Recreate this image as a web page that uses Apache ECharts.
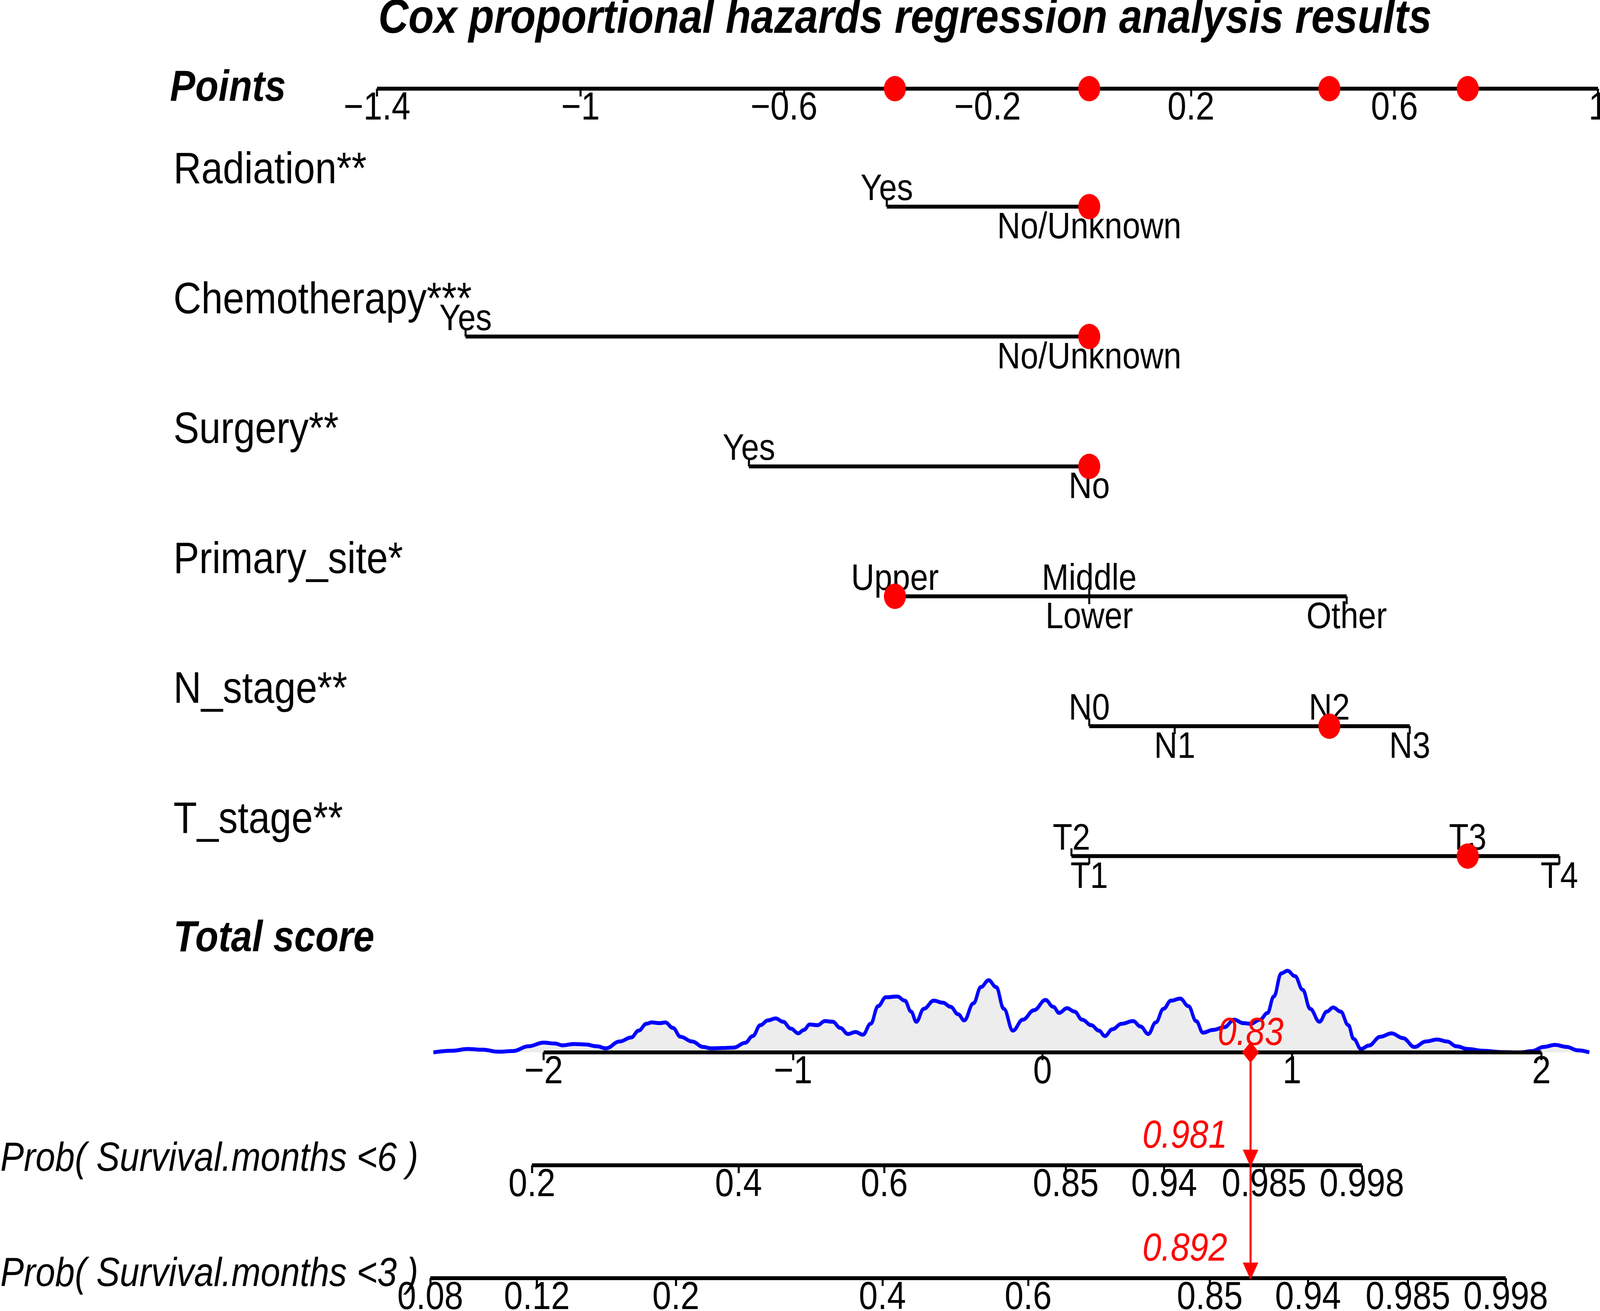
<!DOCTYPE html>
<html><head><meta charset="utf-8">
<script src="https://cdn.jsdelivr.net/npm/echarts@6/dist/echarts.min.js"></script>
<style>html,body{margin:0;padding:0;background:#fff;overflow:hidden}
#wrap{position:absolute;left:0;top:0;width:4724px;height:3356px;transform-origin:0 0}
#c{width:4724px;height:3356px}</style>
</head><body><div id="wrap"><div id="c"></div></div>
<script>
// ---------------- DATA ----------------
const titleText = 'Cox proportional hazards regression analysis results';
const variableNames = ['Radiation**', 'Chemotherapy***', 'Surgery**', 'Primary_site*', 'N_stage**', 'T_stage**'];
const radiationLevels = ['No/Unknown', 'Yes'];
const radiationPoints = [0, -0.398];
const chemoLevels = ['No/Unknown', 'Yes'];
const chemoPoints = [0, -1.226];
const surgeryLevels = ['No', 'Yes'];
const surgeryPoints = [0, -0.669];
const primaryLevels = ['Lower', 'Middle', 'Other', 'Upper'];
const primaryPoints = [0, 0, 0.506, -0.382];
const nStageLevels = ['N0', 'N1', 'N2', 'N3'];
const nStagePoints = [0, 0.168, 0.472, 0.630];
const tStageLevels = ['T1', 'T2', 'T3', 'T4'];
const tStagePoints = [0, -0.035, 0.744, 0.924];
const selectedLevels = ['No/Unknown', 'No/Unknown', 'No', 'Upper', 'N2', 'T3'];

const pointsTicks = [-1.4, -1, -0.6, -0.2, 0.2, 0.6, 1];
const totalTicks = [-2, -1, 0, 1, 2];
const prob6Labels = ['0.2', '0.4', '0.6', '0.85', '0.94', '0.985', '0.998'];
const prob3Labels = ['0.08', '0.12', '0.2', '0.4', '0.6', '0.85', '0.94', '0.985', '0.998'];
const prob6Name = 'Prob( Survival.months <6 )';
const prob3Name = 'Prob( Survival.months <3 )';
// total score = log(-log(1-p)) - baseline
const prob6Baseline = 0.547;
const prob3Baseline = -0.030;
const predictedProbs = [0.981, 0.892];

const densityScore = [-2.442,-2.366,-2.305,-2.244,-2.183,-2.122,-2.061,-2.000,-1.954,-1.924,
-1.878,-1.832,-1.787,-1.750,-1.695,-1.649,-1.619,-1.588,-1.567,-1.534,
-1.512,-1.482,-1.451,-1.405,-1.360,-1.329,-1.284,-1.238,-1.192,-1.162,
-1.131,-1.101,-1.070,-1.040,-1.009,-0.979,-0.957,-0.933,-0.902,-0.872,
-0.841,-0.811,-0.780,-0.750,-0.720,-0.689,-0.659,-0.628,-0.582,-0.552,
-0.527,-0.506,-0.476,-0.436,-0.399,-0.369,-0.338,-0.314,-0.277,-0.247,
-0.216,-0.186,-0.155,-0.119,-0.079,-0.034,0.012,0.043,0.067,0.098,
0.128,0.159,0.195,0.226,0.250,0.280,0.317,0.363,0.393,0.424,
0.454,0.485,0.515,0.552,0.585,0.616,0.643,0.683,0.729,0.768,
0.805,0.835,0.872,0.902,0.927,0.957,0.982,1.012,1.043,1.073,
1.110,1.140,1.165,1.195,1.226,1.247,1.277,1.308,1.354,1.399,
1.445,1.491,1.537,1.582,1.622,1.659,1.704,1.765,1.841,1.918,
1.963,2.009,2.055,2.101,2.146,2.192];
const densityHeight = [0.0,0.12,0.25,0.2,0.05,0.1,0.45,0.72,0.65,0.52,
0.62,0.58,0.45,0.3,0.8,1.1,1.6,2.1,2.2,2.15,
2.2,1.8,1.15,0.8,0.4,0.3,0.32,0.35,0.7,1.2,
2.0,2.35,2.5,2.25,1.75,1.4,1.65,2.05,2.0,2.3,
2.25,1.8,1.35,1.5,1.3,2.1,3.4,4.05,4.1,3.8,
3.0,2.25,3.2,3.8,3.65,3.35,2.8,2.35,3.6,4.8,
5.3,4.8,3.2,1.6,2.4,3.1,3.85,3.35,2.9,3.25,
3.0,2.4,2.0,1.6,1.2,1.7,2.1,2.3,1.9,1.35,
2.2,3.2,3.8,3.95,3.4,2.3,1.45,1.65,1.85,2.4,
2.15,2.1,2.4,2.9,4.1,5.8,6.0,5.6,4.6,3.2,
2.25,3.0,3.3,3.0,2.0,1.0,0.25,0.5,1.15,1.4,
1.05,0.4,0.8,0.95,0.8,0.45,0.25,0.12,0.02,0.0,
0.1,0.4,0.55,0.4,0.15,0.0];

// ---------------- LAYOUT ----------------
const W = 4724, H = 3356;
(function fit() {
  const vw = document.documentElement.clientWidth || window.innerWidth;
  const vh = document.documentElement.clientHeight || window.innerHeight;
  const sx = Math.min(1, vw / W), sy = Math.min(1, vh / H);
  if (sx < 1 || sy < 1) document.getElementById('wrap').style.transform = 'scale(' + sx + ',' + sy + ')';
})();

const FONT = '"Liberation Sans", Arial, Helvetica, sans-serif';
const PTS_ZERO = 3216, PTS_UNIT = 1502;
const SC_ZERO = 3078, SC_UNIT = 736.5;
const POINTS_Y = 227, ROW0 = 529, ROW_STEP = 332.5;
const TOTAL_Y = 2694, PROB6_Y = 2983, PROB3_Y = 3272;
const NAME_X = 512, PROB_NAME_RIGHT = 1235;
const RED = '#ff0000';

const variables = [
  {levels: radiationLevels, points: radiationPoints},
  {levels: chemoLevels, points: chemoPoints},
  {levels: surgeryLevels, points: surgeryPoints},
  {levels: primaryLevels, points: primaryPoints},
  {levels: nStageLevels, points: nStagePoints},
  {levels: tStageLevels, points: tStagePoints}
];

const cll = p => Math.log(-Math.log(1 - p));
const prob6Pos = prob6Labels.map(l => cll(parseFloat(l)) - prob6Baseline);
const prob3Pos = prob3Labels.map(l => cll(parseFloat(l)) - prob3Baseline);

const selPoints = variables.map((v, i) => v.points[v.levels.indexOf(selectedLevels[i])]);
const totalScore = selPoints.reduce((a, b) => a + b, 0);
const uniqueSel = Array.from(new Set(selPoints));

const fmtMinus = v => (v < 0 ? '\u2212' + String(Math.round(-v * 1000) / 1000) : String(Math.round(v * 1000) / 1000));
const nearestLabel = (pos, labels) => v => {
  let best = 0, bd = Infinity;
  pos.forEach((p, k) => { const d = Math.abs(p - v); if (d < bd) { bd = d; best = k; } });
  return labels[best];
};

const ptsLeft = PTS_ZERO - 1.4 * PTS_UNIT, ptsWidth = 2.4 * PTS_UNIT;
const scLeft = SC_ZERO - 2 * SC_UNIT, scWidth = 4 * SC_UNIT;
const DENS_EXT = 2.6;
const p6min = prob6Pos[0], p6max = prob6Pos[prob6Pos.length - 1];
const p3min = prob3Pos[0], p3max = prob3Pos[prob3Pos.length - 1];
const p6Left = SC_ZERO + p6min * SC_UNIT, p6Width = (p6max - p6min) * SC_UNIT;
const p3Left = SC_ZERO + p3min * SC_UNIT, p3Width = (p3max - p3min) * SC_UNIT;

const lineAxis = {show: true, onZero: false, lineStyle: {color: '#000', width: 10, cap: 'butt'}};
const tickStyle = (vals) => ({show: true, length: 20, inside: false, customValues: vals, lineStyle: {color: '#000', width: 6}});
const labelStyle = {color: '#000', fontSize: 100, fontFamily: FONT, margin: 4, lineHeight: 94, hideOverlap: false};

function gridAt(left, width, top, height) {
  return {left: left, width: width, top: top, height: height, containLabel: false, outerBoundsMode: 'none', show: false};
}

// ---------------- SERIES ----------------
const series = [];

// red dots on Points axis
series.push({type: 'scatter', xAxisIndex: 0, yAxisIndex: 0, z: 10, symbol: 'circle', symbolSize: 65,
  itemStyle: {color: RED, opacity: 1}, data: uniqueSel.map(p => [p, 0])});

// variable rows
const above = [], below = [];
variables.forEach((v, i) => {
  const order = v.levels.map((l, k) => ({l: l, p: v.points[k]})).sort((a, b) => a.p - b.p);
  series.push({type: 'line', xAxisIndex: 1, yAxisIndex: 1, z: 2, symbol: 'none', silent: true,
    lineStyle: {color: '#000', width: 10, cap: 'butt'}, data: order.map(o => [o.p, i])});
  order.forEach((o, k) => (k % 2 === 0 ? above : below).push({name: o.l, value: [o.p, i]}));
});
series.push({type: 'scatter', xAxisIndex: 1, yAxisIndex: 1, z: 3, symbol: 'rect', symbolSize: [6, 20], symbolOffset: [0, -10],
  itemStyle: {color: '#000', opacity: 1}, data: above});
series.push({type: 'scatter', xAxisIndex: 1, yAxisIndex: 1, z: 3, symbol: 'rect', symbolSize: [6, 20], symbolOffset: [0, 10],
  itemStyle: {color: '#000', opacity: 1}, data: below});
const lvlLabel = {show: true, position: 'inside', formatter: '{b}', color: '#000', opacity: 1, textBorderWidth: 0, fontSize: 95, fontFamily: FONT};
series.push({type: 'scatter', xAxisIndex: 1, yAxisIndex: 1, z: 4, symbolSize: 1, itemStyle: {color: 'rgba(0,0,0,0)'},
  label: Object.assign({offset: [0, -43]}, lvlLabel), data: above});
series.push({type: 'scatter', xAxisIndex: 1, yAxisIndex: 1, z: 4, symbolSize: 1, itemStyle: {color: 'rgba(0,0,0,0)'},
  label: Object.assign({offset: [0, 55]}, lvlLabel), data: below});
series.push({type: 'scatter', xAxisIndex: 1, yAxisIndex: 1, z: 10, symbol: 'circle', symbolSize: 65,
  itemStyle: {color: RED, opacity: 1}, data: selPoints.map((p, i) => [p, i])});

// density of total score
series.push({type: 'line', xAxisIndex: 2, yAxisIndex: 2, z: 1, smooth: 0.4, smoothMonotone: 'x', symbol: 'none',
  lineStyle: {color: '#0000ff', width: 10}, areaStyle: {color: '#ededed', opacity: 1},
  data: densityScore.map((s, k) => [s, densityHeight[k]])});

// arrow from total score to probabilities
const TRI = 'path://M0,0L10,0L5,10Z';
const redText = {color: RED, fontSize: 100, fontStyle: 'italic', fontFamily: FONT, textBorderWidth: 0};
series.push({type: 'line', xAxisIndex: 5, yAxisIndex: 5, z: 8, clip: false, symbol: 'circle', symbolSize: 0,
  lineStyle: {color: RED, width: 6}, itemStyle: {color: RED, opacity: 1},
  data: [
    {value: [totalScore, 0], symbol: 'diamond', symbolSize: [50, 54],
      label: Object.assign({show: true, position: 'inside', offset: [0, -47], formatter: totalScore.toFixed(2)}, redText)},
    {value: [totalScore, 1], symbol: TRI, symbolSize: [46, 44], symbolOffset: [0, -18],
      label: Object.assign({show: true, position: 'inside', align: 'right', offset: [-69, -55], formatter: String(predictedProbs[0])}, redText)},
    {value: [totalScore, 2], symbol: TRI, symbolSize: [46, 44], symbolOffset: [0, -18],
      label: Object.assign({show: true, position: 'inside', align: 'right', offset: [-69, -55], formatter: String(predictedProbs[1])}, redText)}
  ]});

// ---------------- OPTION ----------------
const hiddenY = (min, max, inv) => ({type: 'value', min: min, max: max, inverse: !!inv, show: false, splitLine: {show: false}});
const option = {
  animation: false,
  backgroundColor: '#ffffff',
  textStyle: {fontFamily: FONT},
  title: [
    {text: titleText, left: 2672, top: 0, padding: 0, textAlign: 'center',
      textStyle: {fontSize: 123, fontWeight: 'bold', fontStyle: 'italic', color: '#000', fontFamily: FONT, lineHeight: 100}},
    {text: 'Total score', left: NAME_X, top: 2354, padding: 0,
      textStyle: {fontSize: 112, fontWeight: 'bold', fontStyle: 'italic', color: '#000', fontFamily: FONT, lineHeight: 100}}
  ],
  grid: [
    gridAt(ptsLeft, ptsWidth, POINTS_Y - 100, 100),
    gridAt(ptsLeft, ptsWidth, ROW0 - ROW_STEP / 2, ROW_STEP * variableNames.length),
    gridAt(SC_ZERO - DENS_EXT * SC_UNIT, 2 * DENS_EXT * SC_UNIT, TOTAL_Y - 230, 230),
    gridAt(p6Left, p6Width, PROB6_Y - 50, 50),
    gridAt(p3Left, p3Width, PROB3_Y - 50, 50),
    gridAt(scLeft, scWidth, TOTAL_Y, PROB3_Y - TOTAL_Y),
    gridAt(scLeft, scWidth, TOTAL_Y - 50, 50)
  ],
  xAxis: [
    {gridIndex: 0, type: 'value', min: -1.4, max: 1, position: 'bottom', splitLine: {show: false},
      axisLine: lineAxis, axisTick: tickStyle(pointsTicks),
      axisLabel: Object.assign({customValues: pointsTicks, formatter: fmtMinus}, labelStyle),
      name: 'Points', nameLocation: 'start', nameGap: ptsLeft - 844, nameMoveOverlap: false,
      nameTextStyle: {fontSize: 112, fontWeight: 'bold', fontStyle: 'italic', color: '#000', fontFamily: FONT, align: 'right', verticalAlign: 'middle'}},
    {gridIndex: 1, type: 'value', min: -1.4, max: 1, show: false, splitLine: {show: false}},
    {gridIndex: 2, type: 'value', min: -DENS_EXT, max: DENS_EXT, show: false, splitLine: {show: false}},
    {gridIndex: 3, type: 'value', min: p6min, max: p6max, position: 'bottom', splitLine: {show: false},
      axisLine: lineAxis, axisTick: tickStyle(prob6Pos),
      axisLabel: Object.assign({customValues: prob6Pos, formatter: nearestLabel(prob6Pos, prob6Labels)}, labelStyle),
      name: prob6Name, nameLocation: 'start', nameGap: p6Left - PROB_NAME_RIGHT, nameMoveOverlap: false,
      nameTextStyle: {fontSize: 104, fontStyle: 'italic', color: '#000', fontFamily: FONT, align: 'right', verticalAlign: 'bottom', lineHeight: 30}},
    {gridIndex: 4, type: 'value', min: p3min, max: p3max, position: 'bottom', splitLine: {show: false},
      axisLine: lineAxis, axisTick: tickStyle(prob3Pos),
      axisLabel: Object.assign({customValues: prob3Pos, formatter: nearestLabel(prob3Pos, prob3Labels)}, labelStyle),
      name: prob3Name, nameLocation: 'start', nameGap: p3Left - PROB_NAME_RIGHT, nameMoveOverlap: false,
      nameTextStyle: {fontSize: 104, fontStyle: 'italic', color: '#000', fontFamily: FONT, align: 'right', verticalAlign: 'bottom', lineHeight: 18}},
    {gridIndex: 5, type: 'value', min: -2, max: 2, show: false, splitLine: {show: false}},
    {gridIndex: 6, type: 'value', min: -2, max: 2, interval: 1, position: 'bottom', z: 3, splitLine: {show: false},
      axisLine: lineAxis, axisTick: tickStyle(totalTicks),
      axisLabel: Object.assign({customValues: totalTicks, formatter: fmtMinus}, labelStyle)}
  ],
  yAxis: [
    hiddenY(0, 1),
    {gridIndex: 1, type: 'category', data: variableNames, inverse: true,
      axisLine: {show: false}, axisTick: {show: false}, splitLine: {show: false},
      axisLabel: {interval: 0, align: 'left', verticalAlign: 'bottom', lineHeight: 182, margin: ptsLeft - NAME_X, color: '#000',
        fontSize: 114, fontFamily: FONT}},
    Object.assign(hiddenY(0, 6.6), {gridIndex: 2}),
    Object.assign(hiddenY(0, 1), {gridIndex: 3}),
    Object.assign(hiddenY(0, 1), {gridIndex: 4}),
    Object.assign(hiddenY(0, 2, true), {gridIndex: 5}),
    Object.assign(hiddenY(0, 1), {gridIndex: 6})
  ],
  series: series
};
const chart = echarts.init(document.getElementById('c'), null, {renderer: 'canvas', width: W, height: H});
chart.setOption(option);
</script>
</body></html>
